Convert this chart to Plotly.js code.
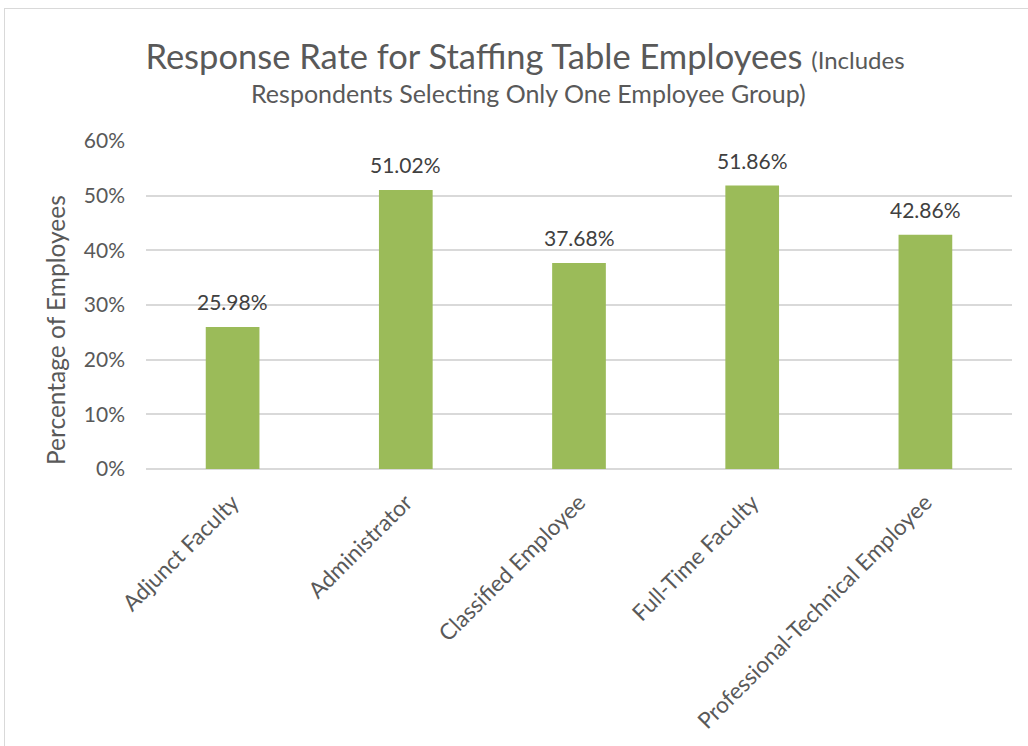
<!DOCTYPE html>
<html>
<head>
<meta charset="utf-8">
<script src="https://cdn.plot.ly/plotly-3.0.1.min.js"></script>
<style>
html,body{margin:0;padding:0;background:#fff;}
#frame{position:absolute;left:4px;top:8px;width:1100px;height:800px;border:1px solid #d9d9d9;}
#chart{position:absolute;left:0;top:0;width:1028px;height:746px;}
</style>
</head>
<body>
<div id="frame"></div>
<div id="chart"></div>
<script>
const categories = ["Adjunct Faculty", "Administrator", "Classified Employee", "Full-Time Faculty", "Professional-Technical Employee"];
const responseRates = [25.98, 51.02, 37.68, 51.86, 42.86];
const yTickValues = [0, 10, 20, 30, 40, 50, 60];
const yTickLabels = ["0%", "10%", "20%", "30%", "40%", "50%", "60%"];

const FONT = "Lato, Open Sans, sans-serif";

const trace = {
  type: "bar",
  x: categories,
  y: responseRates,
  marker: {color: "#9bbb59"},
  hoverinfo: "x+y"
};

const annots = categories.map((c, i) => ({
  x: c,
  y: responseRates[i],
  xref: "x",
  yref: "y",
  text: responseRates[i].toFixed(2) + "%",
  showarrow: false,
  yanchor: "bottom",
  yshift: 11,
  font: {family: FONT, size: 21, color: "#404040"}
}));

annots.push({
  xref: "paper", yref: "paper",
  x: (528 - 146) / 866, y: (469 - 93) / 328,
  xanchor: "center", yanchor: "middle",
  text: "Respondents Selecting Only One Employee Group)",
  showarrow: false,
  font: {family: FONT, size: 25, color: "#595959"}
});

annots.push({
  xref: "paper", yref: "paper",
  x: (55 - 146) / 866, y: (469 - 330) / 328,
  xanchor: "center", yanchor: "middle",
  textangle: -90,
  text: "Percentage of Employees",
  showarrow: false,
  font: {family: FONT, size: 24.5, color: "#595959"}
});

const layout = {
  width: 1028,
  height: 746,
  paper_bgcolor: "rgba(0,0,0,0)",
  plot_bgcolor: "rgba(0,0,0,0)",
  margin: {l: 146, r: 16, t: 141, b: 277},
  bargap: 0.69,
  showlegend: false,
  font: {family: FONT, color: "#595959"},
  title: {
    text: "Response Rate for Staffing Table Employees <span style='font-size:24px'>(Includes</span>",
    font: {family: FONT, size: 34.5, color: "#595959"},
    x: 525 / 1028,
    xanchor: "center",
    xref: "container",
    y: 1 - 57 / 746,
    yanchor: "middle",
    yref: "container"
  },
  annotations: annots,
  xaxis: {
    tickangle: -45,
    tickfont: {family: FONT, size: 22.5, color: "#595959"},
    showgrid: false,
    showline: false,
    ticks: "",
    zeroline: false,
    ticklabelstandoff: 15
  },
  yaxis: {
    range: [0, 60],
    tickvals: yTickValues,
    ticktext: yTickLabels,
    tickfont: {family: FONT, size: 21, color: "#595959"},
    gridcolor: "#d9d9d9",
    gridwidth: 1.5,
    zeroline: true,
    zerolinecolor: "#d9d9d9",
    zerolinewidth: 1.5,
    showline: false,
    ticks: "",
    ticklabelstandoff: 20
  }
};

Plotly.newPlot("chart", [trace], layout, {displayModeBar: false});
</script>
</body>
</html>
